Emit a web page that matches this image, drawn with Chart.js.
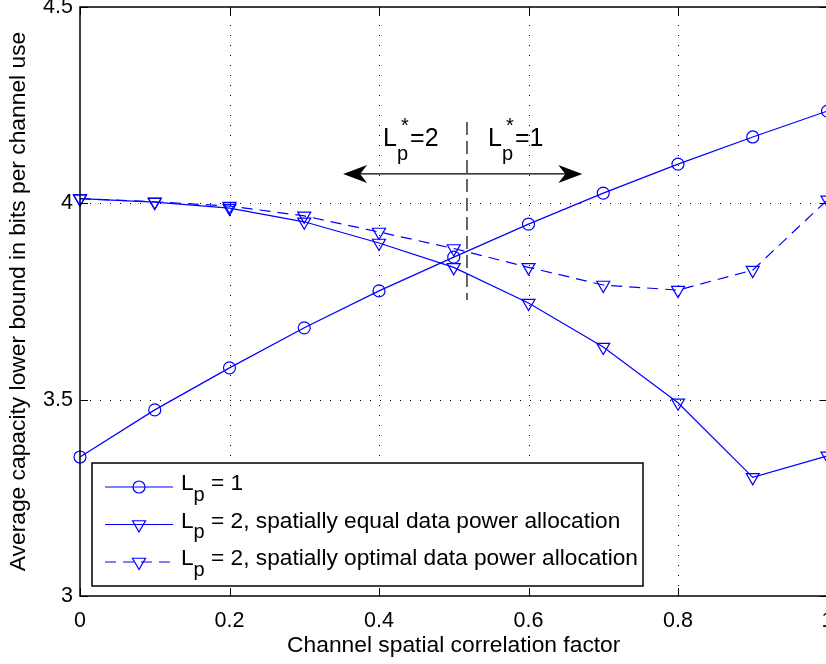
<!DOCTYPE html>
<html>
<head>
<meta charset="utf-8">
<script src="https://cdn.jsdelivr.net/npm/chart.js@4.4.0/dist/chart.umd.min.js"></script>
<style>
    html, body { margin: 0; padding: 0; background: #fff; overflow: hidden; }
    canvas { display: block; }
</style>
</head>
<body>
<canvas id="capacityChart" width="830" height="664"></canvas>
<script>
// ---------------- Data ----------------
const correlation = [0, 0.1, 0.2, 0.3, 0.4, 0.5, 0.6, 0.7, 0.8, 0.9, 1];
const capLp1 = [3.354, 3.474, 3.581, 3.683, 3.777, 3.863, 3.947, 4.026, 4.100, 4.169, 4.235];
const capLp2Equal = [4.012, 4.003, 3.988, 3.953, 3.899, 3.837, 3.746, 3.634, 3.492, 3.302, 3.357];
const capLp2Optimal = [4.012, 4.004, 3.993, 3.968, 3.927, 3.885, 3.837, 3.792, 3.779, 3.830, 4.009];

const xTicks = [0, 0.2, 0.4, 0.6, 0.8, 1];
const yTicks = [3, 3.5, 4, 4.5];

const legendTails = [' = 1', ' = 2, spatially equal data power allocation', ' = 2, spatially optimal data power allocation'];

// switch point annotation (data units)
const switchX = 0.5177;
const switchSpan = [3.754, 4.207];
const arrowY = 4.075;
const arrowEnds = [0.352, 0.672];
const regionTails = ['=2', '=1'];
const regionLabelX = [0.4054, 0.5458];
const regionLabelY = 4.146;

// ---------------- Styles ----------------
const BLUE = '#0000ff';
const FONT = "'Liberation Sans', Arial, Helvetica, sans-serif";

const toPoints = (ys) => correlation.map((c, i) => ({ x: c, y: ys[i] }));

const datasets = [
    {
        label: 'Lp = 1',
        data: toPoints(capLp1),
        borderColor: BLUE,
        borderWidth: 1.2,
        pointStyle: 'circle',
        pointRadius: 6,
        pointBorderWidth: 1.2,
        pointBorderColor: BLUE,
        pointBackgroundColor: 'rgba(0,0,0,0)',
        clip: false
    },
    {
        label: 'Lp = 2, equal',
        data: toPoints(capLp2Equal),
        borderColor: BLUE,
        borderWidth: 1.2,
        pointStyle: 'triangle',
        pointRotation: 180,
        pointRadius: 7.5,
        pointBorderWidth: 1.2,
        pointBorderColor: BLUE,
        pointBackgroundColor: 'rgba(0,0,0,0)',
        clip: false
    },
    {
        label: 'Lp = 2, optimal',
        data: toPoints(capLp2Optimal),
        borderColor: BLUE,
        borderWidth: 1.2,
        borderDash: [11, 7],
        pointStyle: 'triangle',
        pointRotation: 180,
        pointRadius: 7.5,
        pointBorderWidth: 1.2,
        pointBorderColor: BLUE,
        pointBackgroundColor: 'rgba(0,0,0,0)',
        clip: false
    }
];

// ---------------- Helpers ----------------
// draws "L" with subscript p (and optional superscript *) followed by tail text
function drawSubLabel(ctx, x, baseline, size, subSize, subDrop, tail, withStar) {
    ctx.font = size + 'px ' + FONT;
    ctx.fillText('L', x, baseline);
    let cx = x + ctx.measureText('L').width;
    ctx.font = subSize + 'px ' + FONT;
    ctx.fillText('p', cx, baseline + subDrop);
    if (withStar) ctx.fillText('*', cx + 4, baseline - 14);
    cx += ctx.measureText('p').width + (withStar ? 2 : 0);
    ctx.font = size + 'px ' + FONT;
    ctx.fillText(tail, cx, baseline);
}

function drawArrowHead(ctx, tipX, y, dir) {
    const len = 24, half = 9, notch = 7;
    ctx.beginPath();
    ctx.moveTo(tipX, y);
    ctx.lineTo(tipX + dir * len, y - half);
    ctx.lineTo(tipX + dir * (len - notch), y);
    ctx.lineTo(tipX + dir * len, y + half);
    ctx.closePath();
    ctx.fill();
}

function zeroPadding(s) {
    s.paddingLeft = 0;
    s.paddingRight = 0;
    s.paddingTop = 0;
    s.paddingBottom = 0;
}

// ---------------- Plugins ----------------
const gridPlugin = {
    id: 'matlabGrid',
    beforeDatasetsDraw(chart) {
        const { ctx, chartArea: a, scales: { x, y } } = chart;
        ctx.save();
        ctx.strokeStyle = '#000';
        ctx.lineWidth = 1;
        ctx.setLineDash([1, 9]);
        xTicks.slice(1, -1).forEach(v => {
            const px = Math.round(x.getPixelForValue(v)) + 0.5;
            ctx.beginPath();
            ctx.moveTo(px, a.bottom);
            ctx.lineTo(px, a.top);
            ctx.stroke();
        });
        yTicks.slice(1, -1).forEach(v => {
            const py = Math.round(y.getPixelForValue(v)) + 0.5;
            ctx.beginPath();
            ctx.moveTo(a.left, py);
            ctx.lineTo(a.right, py);
            ctx.stroke();
        });
        ctx.restore();
    },
    afterDatasetsDraw(chart) {
        const { ctx, chartArea: a, scales: { x, y } } = chart;
        ctx.save();
        ctx.strokeStyle = '#000';
        ctx.lineWidth = 1.5;
        ctx.strokeRect(a.left, a.top, a.right - a.left, a.bottom - a.top);

        // inward ticks
        const tl = 8;
        ctx.lineWidth = 1;
        xTicks.forEach(v => {
            const px = Math.round(x.getPixelForValue(v)) + 0.5;
            ctx.beginPath();
            ctx.moveTo(px, a.bottom); ctx.lineTo(px, a.bottom - tl);
            ctx.moveTo(px, a.top); ctx.lineTo(px, a.top + tl);
            ctx.stroke();
        });
        yTicks.forEach(v => {
            const py = Math.round(y.getPixelForValue(v)) + 0.5;
            ctx.beginPath();
            ctx.moveTo(a.left, py); ctx.lineTo(a.left + tl, py);
            ctx.moveTo(a.right, py); ctx.lineTo(a.right - tl, py);
            ctx.stroke();
        });

        // switch point: dashed vertical + double arrow
        const sx = x.getPixelForValue(switchX);
        ctx.setLineDash([13, 6]);
        ctx.lineWidth = 1.2;
        ctx.beginPath();
        ctx.moveTo(sx, y.getPixelForValue(switchSpan[1]));
        ctx.lineTo(sx, y.getPixelForValue(switchSpan[0]));
        ctx.stroke();
        ctx.setLineDash([]);

        const ay = y.getPixelForValue(arrowY);
        const ax0 = x.getPixelForValue(arrowEnds[0]);
        const ax1 = x.getPixelForValue(arrowEnds[1]);
        ctx.lineWidth = 1.4;
        ctx.beginPath();
        ctx.moveTo(ax0 + 10, ay);
        ctx.lineTo(ax1 - 10, ay);
        ctx.stroke();
        ctx.fillStyle = '#000';
        drawArrowHead(ctx, ax0, ay, 1);
        drawArrowHead(ctx, ax1, ay, -1);

        ctx.textBaseline = 'alphabetic';
        ctx.textAlign = 'left';
        regionTails.forEach((t, i) => {
            drawSubLabel(ctx, x.getPixelForValue(regionLabelX[i]), y.getPixelForValue(regionLabelY), 25, 20, 14, t, true);
        });

        // legend box
        const lx = a.left + 12, ly = a.bottom - 133, lw = 551, lh = 123;
        ctx.fillStyle = '#fff';
        ctx.fillRect(lx, ly, lw, lh);
        ctx.strokeStyle = '#000';
        ctx.lineWidth = 1.5;
        ctx.strokeRect(lx, ly, lw, lh);

        chart.data.datasets.forEach((ds, i) => {
            const rowY = ly + 24 + i * 37.5;
            ctx.strokeStyle = ds.borderColor;
            ctx.lineWidth = ds.borderWidth;
            ctx.setLineDash(ds.borderDash || []);
            ctx.beginPath();
            ctx.moveTo(lx + 13, rowY);
            ctx.lineTo(lx + 81, rowY);
            ctx.stroke();
            ctx.setLineDash([]);
            ctx.fillStyle = 'rgba(0,0,0,0)';
            ctx.lineWidth = ds.pointBorderWidth;
            Chart.helpers.drawPoint(ctx, {
                pointStyle: ds.pointStyle,
                rotation: ds.pointRotation || 0,
                radius: ds.pointRadius,
                borderWidth: ds.pointBorderWidth
            }, lx + 47, rowY);
            ctx.fillStyle = '#000';
            drawSubLabel(ctx, lx + 89, rowY + 3, 22.7, 20, 10.5, legendTails[i], false);
        });
        ctx.restore();
    }
};

// ---------------- Chart ----------------
const tickFont = { family: FONT, size: 21.5 };
const titleFont = { family: FONT, size: 22.8 };

new Chart(document.getElementById('capacityChart'), {
    type: 'line',
    data: { datasets: datasets },
    options: {
        responsive: false,
        animation: false,
        layout: { autoPadding: false, padding: { left: 0, top: 7, right: 2.5, bottom: 0 } },
        plugins: { legend: { display: false }, tooltip: { enabled: false } },
        elements: { line: { tension: 0 } },
        scales: {
            x: {
                type: 'linear',
                min: 0,
                max: 1,
                afterBuildTicks: (s) => { s.ticks = xTicks.map(v => ({ value: v })); },
                afterFit: (s) => { s.height = 68; zeroPadding(s); },
                grid: { display: false, drawTicks: false },
                border: { display: false },
                ticks: { color: '#000', font: tickFont, padding: 12, maxRotation: 0, callback: (v) => String(v) },
                title: { display: true, text: 'Channel spatial correlation factor', color: '#000', font: titleFont, padding: { top: 5, bottom: 5 } }
            },
            y: {
                type: 'linear',
                min: 3,
                max: 4.5,
                afterBuildTicks: (s) => { s.ticks = yTicks.map(v => ({ value: v })); },
                afterFit: (s) => { s.width = 80; zeroPadding(s); },
                grid: { display: false, drawTicks: false },
                border: { display: false },
                ticks: { color: '#000', font: tickFont, padding: 7, callback: (v) => String(v) },
                title: { display: true, text: 'Average capacity lower bound in bits per channel use', color: '#000', font: titleFont, padding: { top: 5, bottom: 5 } }
            }
        }
    },
    plugins: [gridPlugin]
});
</script>
</body>
</html>
